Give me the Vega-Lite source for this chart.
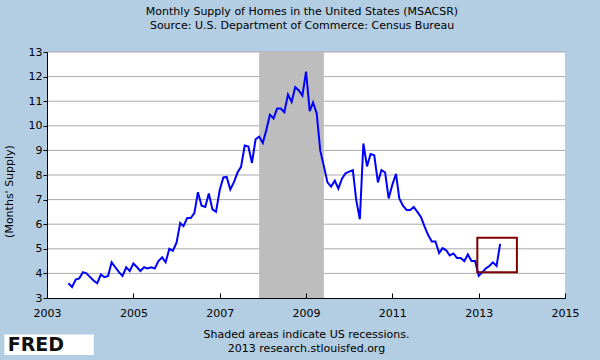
{
  "$schema": "https://vega.github.io/schema/vega-lite/v6.json",
  "width": 518,
  "height": 246,
  "autosize": {"type": "none"},
  "padding": {"left": 47, "top": 52, "right": 35, "bottom": 62},
  "background": "#b3cde3",
  "config": {
    "font": "DejaVu Sans",
    "view": {"stroke": null}
  },
  "title": {
    "text": ["Monthly Supply of Homes in the United States (MSACSR)", "Source: U.S. Department of Commerce: Census Bureau"],
    "font": "DejaVu Sans",
    "fontSize": 11,
    "fontWeight": "normal",
    "color": "#000000",
    "lineHeight": 14,
    "anchor": "middle",
    "frame": "group",
    "offset": 15,
    "dx": -4
  },
  "datasets": {
    "supply": [
      {"date": "2003-07-01", "value": 3.6}, {"date": "2003-08-01", "value": 3.45}, {"date": "2003-09-01", "value": 3.75},
      {"date": "2003-10-01", "value": 3.8}, {"date": "2003-11-01", "value": 4.05}, {"date": "2003-12-01", "value": 4.0},
      {"date": "2004-01-01", "value": 3.85}, {"date": "2004-02-01", "value": 3.7}, {"date": "2004-03-01", "value": 3.6},
      {"date": "2004-04-01", "value": 3.95}, {"date": "2004-05-01", "value": 3.85}, {"date": "2004-06-01", "value": 3.9},
      {"date": "2004-07-01", "value": 4.45}, {"date": "2004-08-01", "value": 4.25}, {"date": "2004-09-01", "value": 4.05},
      {"date": "2004-10-01", "value": 3.9}, {"date": "2004-11-01", "value": 4.25}, {"date": "2004-12-01", "value": 4.1},
      {"date": "2005-01-01", "value": 4.4}, {"date": "2005-02-01", "value": 4.25}, {"date": "2005-03-01", "value": 4.1},
      {"date": "2005-04-01", "value": 4.25}, {"date": "2005-05-01", "value": 4.2}, {"date": "2005-06-01", "value": 4.25},
      {"date": "2005-07-01", "value": 4.2}, {"date": "2005-08-01", "value": 4.5}, {"date": "2005-09-01", "value": 4.65},
      {"date": "2005-10-01", "value": 4.45}, {"date": "2005-11-01", "value": 5.0}, {"date": "2005-12-01", "value": 4.92},
      {"date": "2006-01-01", "value": 5.25}, {"date": "2006-02-01", "value": 6.05}, {"date": "2006-03-01", "value": 5.92},
      {"date": "2006-04-01", "value": 6.25}, {"date": "2006-05-01", "value": 6.25}, {"date": "2006-06-01", "value": 6.45},
      {"date": "2006-07-01", "value": 7.3}, {"date": "2006-08-01", "value": 6.75}, {"date": "2006-09-01", "value": 6.7},
      {"date": "2006-10-01", "value": 7.25}, {"date": "2006-11-01", "value": 6.6}, {"date": "2006-12-01", "value": 6.5},
      {"date": "2007-01-01", "value": 7.38}, {"date": "2007-02-01", "value": 7.9}, {"date": "2007-03-01", "value": 7.92},
      {"date": "2007-04-01", "value": 7.41}, {"date": "2007-05-01", "value": 7.7}, {"date": "2007-06-01", "value": 8.1},
      {"date": "2007-07-01", "value": 8.33}, {"date": "2007-08-01", "value": 9.2}, {"date": "2007-09-01", "value": 9.16},
      {"date": "2007-10-01", "value": 8.49}, {"date": "2007-11-01", "value": 9.45}, {"date": "2007-12-01", "value": 9.56},
      {"date": "2008-01-01", "value": 9.3}, {"date": "2008-02-01", "value": 9.85}, {"date": "2008-03-01", "value": 10.45},
      {"date": "2008-04-01", "value": 10.3}, {"date": "2008-05-01", "value": 10.7}, {"date": "2008-06-01", "value": 10.7},
      {"date": "2008-07-01", "value": 10.55}, {"date": "2008-08-01", "value": 11.27}, {"date": "2008-09-01", "value": 10.97},
      {"date": "2008-10-01", "value": 11.57}, {"date": "2008-11-01", "value": 11.44}, {"date": "2008-12-01", "value": 11.23},
      {"date": "2009-01-01", "value": 12.2}, {"date": "2009-02-01", "value": 10.6}, {"date": "2009-03-01", "value": 10.95},
      {"date": "2009-04-01", "value": 10.5}, {"date": "2009-05-01", "value": 9.0}, {"date": "2009-06-01", "value": 8.35},
      {"date": "2009-07-01", "value": 7.7}, {"date": "2009-08-01", "value": 7.53}, {"date": "2009-09-01", "value": 7.77},
      {"date": "2009-10-01", "value": 7.45}, {"date": "2009-11-01", "value": 7.85}, {"date": "2009-12-01", "value": 8.07},
      {"date": "2010-01-01", "value": 8.14}, {"date": "2010-02-01", "value": 8.2}, {"date": "2010-03-01", "value": 7.0},
      {"date": "2010-04-01", "value": 6.2}, {"date": "2010-05-01", "value": 9.28}, {"date": "2010-06-01", "value": 8.35},
      {"date": "2010-07-01", "value": 8.85}, {"date": "2010-08-01", "value": 8.8}, {"date": "2010-09-01", "value": 7.7},
      {"date": "2010-10-01", "value": 8.2}, {"date": "2010-11-01", "value": 8.1}, {"date": "2010-12-01", "value": 7.05},
      {"date": "2011-01-01", "value": 7.6}, {"date": "2011-02-01", "value": 8.05}, {"date": "2011-03-01", "value": 7.05},
      {"date": "2011-04-01", "value": 6.75}, {"date": "2011-05-01", "value": 6.58}, {"date": "2011-06-01", "value": 6.58},
      {"date": "2011-07-01", "value": 6.7}, {"date": "2011-08-01", "value": 6.5}, {"date": "2011-09-01", "value": 6.28},
      {"date": "2011-10-01", "value": 5.9}, {"date": "2011-11-01", "value": 5.55}, {"date": "2011-12-01", "value": 5.3},
      {"date": "2012-01-01", "value": 5.3}, {"date": "2012-02-01", "value": 4.83}, {"date": "2012-03-01", "value": 5.03},
      {"date": "2012-04-01", "value": 4.94}, {"date": "2012-05-01", "value": 4.73}, {"date": "2012-06-01", "value": 4.81},
      {"date": "2012-07-01", "value": 4.63}, {"date": "2012-08-01", "value": 4.63}, {"date": "2012-09-01", "value": 4.5},
      {"date": "2012-10-01", "value": 4.77}, {"date": "2012-11-01", "value": 4.5}, {"date": "2012-12-01", "value": 4.5},
      {"date": "2013-01-01", "value": 3.9}, {"date": "2013-02-01", "value": 4.05}, {"date": "2013-03-01", "value": 4.2},
      {"date": "2013-04-01", "value": 4.3}, {"date": "2013-05-01", "value": 4.45}, {"date": "2013-06-01", "value": 4.3},
      {"date": "2013-07-01", "value": 5.2}
    ],
    "recessions": [
      {"start": "2007-12-01", "end": "2009-06-01"}
    ],
    "highlight": [
      {"start": "2012-12-20", "end": "2013-11-20", "low": 4.05, "high": 5.45}
    ],
    "gridlevels": [
      {"level": 4}, {"level": 5}, {"level": 6}, {"level": 7}, {"level": 8},
      {"level": 9}, {"level": 10}, {"level": 11}, {"level": 12}, {"level": 13}
    ],
    "logo": [
      {"logo": "FRED"}
    ]
  },
  "encoding": {
    "x": {
      "type": "temporal",
      "scale": {"type": "utc", "domain": [{"year": 2003, "month": 1, "date": 1, "utc": true}, {"year": 2015, "month": 1, "date": 1, "utc": true}]},
      "axis": {
        "values": [
          {"year": 2003, "month": 1, "date": 1, "utc": true},
          {"year": 2005, "month": 1, "date": 1, "utc": true},
          {"year": 2007, "month": 1, "date": 1, "utc": true},
          {"year": 2009, "month": 1, "date": 1, "utc": true},
          {"year": 2011, "month": 1, "date": 1, "utc": true},
          {"year": 2013, "month": 1, "date": 1, "utc": true},
          {"year": 2015, "month": 1, "date": 1, "utc": true}
        ],
        "format": "%Y",
        "grid": false,
        "tickSize": -5,
        "tickColor": "#000000",
        "domainColor": "#000000",
        "labelColor": "#000000",
        "labelFont": "DejaVu Sans",
        "labelFontSize": 11,
        "labelPadding": 14,
        "labelFlush": false,
        "labelOverlap": false,
        "title": ["Shaded areas indicate US recessions.", "2013 research.stlouisfed.org"],
        "titleFont": "DejaVu Sans",
        "titleFontSize": 11,
        "titleFontWeight": "normal",
        "titleColor": "#000000",
        "titleLineHeight": 14,
        "titlePadding": 10,
        "zindex": 1
      }
    },
    "y": {
      "type": "quantitative",
      "scale": {"domain": [3, 13], "nice": false, "zero": false},
      "axis": {
        "values": [3, 4, 5, 6, 7, 8, 9, 10, 11, 12, 13],
        "grid": false,
        "tickSize": 4,
        "tickColor": "#000000",
        "domainColor": "#000000",
        "labelColor": "#000000",
        "labelFont": "DejaVu Sans",
        "labelFontSize": 11,
        "labelPadding": 1,
        "labelFlush": false,
        "labelOverlap": false,
        "labelSeparation": 0,
        "title": "(Months' Supply)",
        "titleFont": "DejaVu Sans",
        "titleFontSize": 11,
        "titleFontWeight": "normal",
        "titleColor": "#000000",
        "titleX": -33,
        "titleY": 139,
        "zindex": 1
      }
    }
  },
  "layer": [
    {
      "data": {"name": "logo"},
      "mark": {"type": "rect", "fill": "#ffffff"},
      "encoding": {
        "x": {"datum": {"year": 2003, "month": 1, "date": 1, "utc": true}},
        "x2": {"datum": {"year": 2015, "month": 1, "date": 1, "utc": true}}
      }
    },
    {
      "data": {"name": "gridlevels"},
      "mark": {"type": "rule", "color": "#aaaaaa", "strokeWidth": 1},
      "encoding": {
        "y": {"field": "level"}
      }
    },
    {
      "data": {"name": "recessions"},
      "mark": {"type": "rect", "color": "#bdbdbd"},
      "encoding": {
        "x": {"field": "start"},
        "x2": {"field": "end"}
      }
    },
    {
      "data": {"name": "supply"},
      "mark": {"type": "line", "color": "#0000ff", "strokeWidth": 2},
      "encoding": {
        "x": {"field": "date"},
        "y": {"field": "value"}
      }
    },
    {
      "data": {"name": "highlight"},
      "mark": {"type": "rect", "fill": null, "fillOpacity": 0, "stroke": "#800000", "strokeWidth": 2},
      "encoding": {
        "x": {"field": "start"},
        "x2": {"field": "end"},
        "y": {"field": "low"},
        "y2": {"field": "high"}
      }
    },
    {
      "data": {"name": "logo"},
      "mark": {"type": "rect", "fill": "white", "clip": false},
      "encoding": {
        "x": {"datum": {"year": 2002, "month": 1, "date": 5, "utc": true}},
        "x2": {"datum": {"year": 2004, "month": 2, "date": 1, "utc": true}},
        "y": {"datum": 1.52},
        "y2": {"datum": 0.68}
      }
    },
    {
      "data": {"name": "logo"},
      "mark": {"type": "text", "font": "DejaVu Sans", "fontWeight": "bold", "fontSize": 19, "align": "left", "baseline": "middle", "color": "#111111", "clip": false},
      "encoding": {
        "x": {"datum": {"year": 2002, "month": 2, "date": 3, "utc": true}},
        "y": {"datum": 1.1},
        "text": {"field": "logo"}
      }
    }
  ]
}
